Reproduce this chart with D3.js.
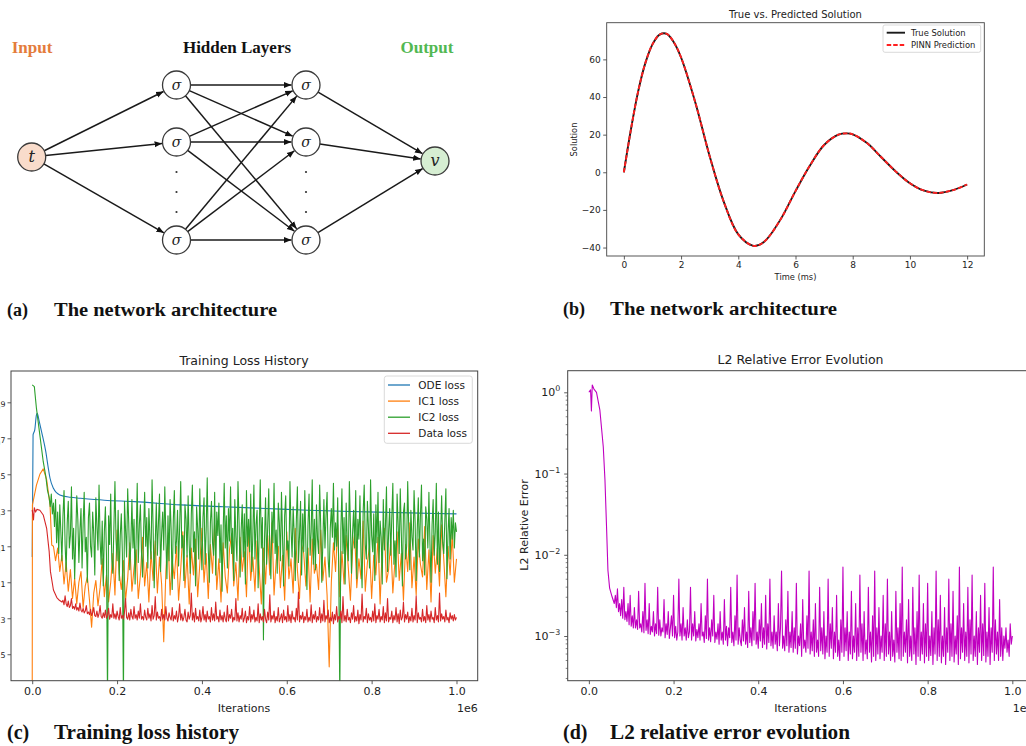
<!DOCTYPE html>
<html>
<head>
<meta charset="utf-8">
<script src="https://cdn.jsdelivr.net/npm/d3@7"></script>
<style>
body { margin: 0; background: #fff; }
</style>
</head>
<body>
<svg id="fig" width="1026" height="746"></svg>
<script>
"use strict";

// (a) network architecture
var layerTitles = ["Input", "Hidden Layers", "Output"];
var netLayers = [["t"], ["σ", "σ", "σ"], ["σ", "σ", "σ"], ["v"]];

// (b) true vs predicted solution
var solTime = [0, 0.25, 0.5, 0.75, 1, 1.25, 1.5, 1.75, 2, 2.5, 3, 3.5, 4, 4.5, 4.75, 5, 5.5, 6, 6.5, 7, 7.5, 7.8, 8, 8.5, 9, 9.5, 10, 10.5, 11, 11.5, 12];
var solTrue = [0, 23, 43, 58, 68, 73.2, 73.6, 69, 61, 37, 8.5, -16, -33, -39, -38.5, -35.5, -24.5, -10, 3.5, 14.5, 20, 20.7, 20.2, 15.5, 8, 0.5, -5.8, -9.8, -11, -9.5, -6.5];
var solPred = [0, 23, 43, 58, 68, 73.2, 73.6, 69, 61, 37, 8.5, -16, -33, -39, -38.5, -35.5, -24.5, -10, 3.5, 14.5, 20, 20.7, 20.2, 15.5, 8, 0.5, -5.8, -9.8, -11, -9.5, -6.5];
var solXTicks = [0, 2, 4, 6, 8, 10, 12];
var solYTicks = [-40, -20, 0, 20, 40, 60];
var solNames = ["True Solution", "PINN Prediction"];

// (c) training loss history, iterations in 1e6, losses as log10
var iterTicks = [0, 0.2, 0.4, 0.6, 0.8, 1.0];
var lossExpTicks = [9, 7, 5, 3, 1, -1, -3, -5];
var lossNames = ["ODE loss", "IC1 loss", "IC2 loss", "Data loss"];

var odeLoss = [[0, 0.4], [0.002, 7.19], [0.006, 7.47], [0.01, 8.3], [0.012, 8.39], [0.016, 8.0],
  [0.022, 7.37], [0.032, 6.26], [0.038, 5.33], [0.042, 4.78], [0.05, 4.22], [0.065, 3.85],
  [0.09, 3.72], [0.113, 3.67], [0.17, 3.56], [0.24, 3.48], [0.35, 3.3], [0.45, 3.2],
  [0.55, 3.1], [0.65, 3.0], [0.75, 2.93], [0.85, 2.88], [0.95, 2.82], [1.0, 2.8]];

var ic1Early = [[0, -7.5], [0.0005, 3.3], [0.01, 4.4], [0.018, 5.0], [0.026, 5.3], [0.034, 4.7], [0.042, 3.3], [0.046, 1.07]];
var ic1Start = 0.05, ic1Step = 0.005;
var ic1Noise = [1.0, 0.2, 0.9, -0.4, 0.5, -1.1, 0.1, -1.5, -0.3, -1.9,
  -0.8, -2.2, -1.0, -0.4, -2.4, -1.2, -0.7, -2.0, -3.5, -1.6,
  -0.9, -2.3, -1.3, 0.3, -1.8, -0.6, -2.1, -1.0, 0.6, -1.7,
  1.9, -0.5, -1.4, 0.2, -2.0, -0.8, 1.2, -1.5, -0.2, 0.8,
  -1.9, -0.6, 1.5, -1.2, 0.1, -2.1, 0.7, -0.9, 1.3, -1.6,
  0.4, -1.1, -4.3, -0.4, 1.6, -1.7, 0.2, -0.8, 1.0, -2.0,
  -0.3, 1.8, -1.3, 0.5, -2.2, 0.9, -0.6, 1.4, -1.8, 0.0,
  2.0, -1.0, 0.6, -1.9, 1.1, -0.5, 2.2, -1.4, 0.3, -2.1,
  1.2, -0.7, -1.6, 0.8, 1.7, -1.2, 0.1, -2.0, 1.5, -0.4,
  0.7, -1.8, 2.1, -0.9, 0.4, -1.5, 1.3, -0.2, -2.2, 0.9,
  -1.1, 1.6, -0.6, 2.3, -1.7, 0.2, 1.0, -1.3, 0.5, -2.0,
  1.8, -0.8, 0.3, -1.6, 2.0, -0.3, -1.9, 1.1, 0.6, -1.2,
  0.9, -2.1, 1.4, -0.5, 0.0, -1.4, 1.9, -0.9, 0.4, -1.7,
  -5.7, -1.0, 1.2, -0.4, 2.2, -1.8, 0.7, -1.1, 1.6, -0.2,
  -2.0, 0.8, 1.7, -1.3, 0.3, -0.8, 2.4, -1.5, 0.1, 1.0,
  -1.9, 0.5, -0.6, 1.5, -2.2, 0.9, 2.0, -1.0, -0.3, 1.3,
  -1.6, 0.2, 1.8, -0.9, 0.6, -2.0, 1.1, -0.4, 2.3, -1.3,
  0.4, -1.7, 1.4, 0.0, -0.7, 2.1, -1.4, 0.8, -2.1, 1.6,
  -0.5, 0.9, -1.2, 2.2, 0.3, -1.8, 1.0, -0.6, 1.7, -1.0,
  0.3];

var ic2Early = [[0, 9.97], [0.005, 9.87], [0.01, 8.66], [0.018, 7.18], [0.026, 5.7], [0.032, 4.9], [0.036, 4.1]];
var ic2Start = 0.04, ic2Step = 0.0025;
var ic2Noise = [3.7, 3.2, 3.9, 2.8, 3.4, 2.1, 3.6, 1.2, 2.9, 0.6,
  3.3, 1.8, 0.2, 2.7, 4.1, 1.1, -0.4, 2.3, 3.5, 0.9,
  1.6, 4.3, 0.3, 2.0, -0.8, 1.4, 3.8, 2.5, 0.1, 1.9,
  3.1, -0.2, 2.2, 4.0, 0.7, 1.5, -1.0, 2.6, 3.4, 1.0,
  0.4, 2.9, 1.7, -0.6, 3.7, 2.1, 0.8, 4.4, 1.3, 0.0,
  2.4, -1.2, 1.8, 3.2, 0.5, -7.5, 2.7, 1.1, 3.9, 0.3,
  -0.5, 2.0, 4.6, 1.4, 0.2, 3.0, -0.9, 1.6, 2.8, 0.6,
  -7.5, 3.5, 1.9, 0.4, 4.2, 2.3, -0.3, 1.2, 3.6, 0.9,
  2.5, -1.1, 1.5, 4.5, 0.1, 2.2, 3.3, 0.7, -0.7, 1.8,
  4.0, 1.0, 2.6, -0.2, 3.1, 1.4, 0.3, 4.7, 2.0, -1.3,
  1.2, 3.4, 0.5, 2.3, 3.9, -0.4, 1.7, 2.9, 0.8, 4.3,
  1.5, -0.8, 2.7, 0.2, 3.6, 1.9, -1.4, 2.4, 4.1, 0.6,
  1.3, 3.0, -0.1, 2.1, 4.6, 0.9, 1.6, -0.9, 3.3, 2.5,
  0.4, 3.8, 1.1, -0.5, 2.8, 4.4, 0.7, 1.8, -1.2, 3.2,
  2.0, 0.3, 4.2, 1.4, -0.3, 2.6, 3.7, 0.0, 1.9, 4.8,
  0.8, -1.0, 2.3, 3.5, 1.2, 0.5, 4.0, -0.6, 2.9, 1.6,
  3.4, 0.1, 2.2, -1.5, 1.7, 4.5, 0.9, 2.7, -0.2, 3.1,
  1.3, 4.3, 0.6, 2.0, -0.9, 3.6, 1.5, 0.2, 4.6, 2.4,
  -0.7, 1.9, 3.3, 0.4, 2.8, -1.1, 4.1, 1.0, 2.5, 0.7,
  3.9, -0.4, 1.6, 4.4, 0.3, 2.2, 3.0, -1.3, 1.8, 4.7,
  0.9, 2.6, -4.2, 1.4, 3.7, 0.0, 2.1, 4.2, 0.5, -0.8,
  2.9, 1.2, 4.5, 0.6, 1.9, -0.5, 3.4, 2.3, 0.2, 4.0,
  1.5, -1.2, 2.7, 3.8, 0.8, 1.3, -0.1, 4.6, 2.0, 0.4,
  3.2, 1.7, -0.9, 2.4, 4.3, 0.1, 1.6, 3.5, -0.6, 2.8,
  0.7, 4.1, 1.1, -1.4, 2.2, 3.9, 0.5, 1.8, 4.7, 0.0,
  2.5, -0.3, 3.3, 1.4, 0.6, 4.4, 2.1, -1.0, 1.2, 3.6,
  0.9, 2.7, 4.0, 0.3, -0.7, 2.0, 3.1, 1.5, 4.5, 0.8,
  2.3, 1.0, 3.7, -0.4, -7.5, 1.9, 4.2, 0.6, 2.6, -1.1,
  3.4, 1.3, 0.2, 4.6, 2.2, -0.5, 1.7, 3.0, 0.9, 4.1,
  -0.8, 2.5, 1.4, 3.8, 0.4, -1.3, 2.9, 4.4, 1.1, 0.3,
  3.5, 2.0, -0.2, 4.7, 1.6, 0.7, 2.8, -0.9, 3.3, 1.2,
  4.0, 0.1, 2.4, 1.5, -1.1, 3.6, 0.8, 2.1, 4.3, -0.4,
  1.8, 3.1, 0.5, 2.6, 4.5, 0.0, 1.3, -0.7, 3.9, 2.2,
  0.6, 4.2, 1.7, -1.2, 2.9, 3.4, 0.3, 1.0, 4.6, 2.0,
  -0.3, 3.0, 1.5, 0.8, 4.1, 2.3, -0.9, 1.9, 3.7, 0.4,
  2.7, 4.4, 0.2, 1.4, -0.6, 3.2, 2.5, 0.9, 4.0, 1.1,
  -1.0, 2.2, 3.6, 0.5, 1.8, 4.5, 0.0, 2.9, -0.4, 1.6,
  3.8, 1.2, 0.6, 2.4, 4.2, -0.8, 1.7, 3.1, 0.3, 2.6,
  1.4, 3.0, 0.9, 2.3, 1.8];

var dataEarly = [[0, 3.02], [0.003, 2.46], [0.005, 3.14], [0.008, 2.9], [0.011, 3.05], [0.018, 3.0],
  [0.026, 2.74], [0.034, 2.0], [0.04, 0.7], [0.043, -0.41], [0.05, -1.43], [0.058, -1.85], [0.064, -2.0]];
var dataStart = 0.07, dataStep = 0.0025;
var dataNoise = [-2.1, -2.0, -2.25, -1.75, -2.2, -2.35, -2.05, -2.4, -2.3, -1.9,
  -2.45, -2.35, -2.5, -2.2, -2.55, -2.4, -2.6, -2.15, -2.55, -2.65,
  -2.45, -2.7, -2.6, -2.3, -2.75, -2.65, -2.8, -2.5, -2.85, -2.7,
  -2.4, -2.85, -2.9, -2.6, -2.95, -2.75, -2.3, -2.9, -3.0, -2.7,
  -2.95, -2.55, -3.0, -2.85, -2.45, -3.05, -2.8, -2.95, -2.2, -3.0,
  -2.75, -3.05, -2.6, -2.9, -3.1, -2.4, -3.0, -2.85, -3.05, -2.65,
  -1.9, -2.95, -3.05, -2.7, -3.1, -2.5, -2.9, -3.05, -2.35, -3.0,
  -2.8, -3.1, -2.6, -3.0, -2.2, -3.05, -2.9, -3.1, -2.55, -2.95,
  -3.1, -2.45, -3.0, -2.75, -3.15, -2.3, -3.05, -2.85, -1.8, -3.1,
  -2.65, -3.0, -2.9, -3.15, -2.5, -3.05, -2.8, -3.1, -2.35, -3.0,
  -3.15, -2.7, -2.95, -3.1, -2.4, -3.15, -2.85, -3.05, -2.6, -3.2,
  -2.9, -2.2, -3.1, -2.75, -3.15, -2.95, -2.5, -3.1, -3.2, -2.65,
  -3.05, -2.85, -1.6, -3.1, -2.7, -3.2, -2.45, -3.05, -2.9, -3.15,
  -2.55, -3.2, -2.95, -2.35, -3.1, -2.8, -3.2, -2.6, -3.05, -2.9,
  -3.2, -2.4, -3.1, -2.75, -3.15, -2.1, -3.05, -2.9, -3.2, -2.55,
  -3.1, -2.85, -3.2, -2.65, -3.05, -3.2, -2.3, -3.15, -2.8, -3.0,
  -2.5, -3.2, -2.95, -3.1, -1.9, -3.15, -2.7, -3.2, -2.85, -3.05,
  -2.45, -3.2, -3.0, -2.6, -3.25, -2.9, -3.1, -2.35, -3.2, -2.8,
  -3.05, -2.55, -3.2, -2.95, -3.15, -2.2, -3.25, -2.75, -3.1, -2.9,
  -3.2, -2.5, -3.05, -3.25, -2.65, -3.1, -1.7, -3.2, -2.85, -3.05,
  -2.6, -3.25, -2.9, -3.15, -2.4, -3.2, -3.0, -2.75, -3.25, -2.55,
  -3.1, -2.9, -3.2, -2.3, -3.15, -2.8, -3.25, -2.6, -3.05, -2.95,
  -3.2, -2.45, -3.1, -1.55, -3.2, -2.85, -3.05, -2.65, -3.25, -2.9,
  -3.1, -2.5, -3.2, -2.95, -3.15, -2.25, -3.25, -2.8, -3.05, -2.6,
  -3.2, -2.9, -3.1, -2.4, -3.25, -2.75, -3.15, -2.0, -3.2, -2.85,
  -3.05, -2.55, -3.25, -2.95, -3.15, -2.65, -3.3, -2.8, -3.1, -2.35,
  -3.2, -2.9, -3.05, -2.6, -3.25, -1.8, -3.15, -2.85, -3.2, -2.5,
  -3.1, -2.95, -3.25, -2.7, -3.05, -2.3, -3.2, -2.9, -3.15, -2.55,
  -3.3, -2.8, -3.1, -1.65, -3.2, -2.9, -3.05, -2.45, -3.25, -2.75,
  -3.1, -2.95, -3.2, -2.6, -3.15, -2.2, -3.25, -2.85, -3.05, -2.5,
  -3.2, -2.9, -3.1, -2.35, -3.25, -2.7, -3.15, -1.9, -3.2, -2.95,
  -3.05, -2.6, -3.25, -2.85, -3.1, -2.4, -3.2, -2.75, -3.3, -2.55,
  -3.1, -2.95, -2.1, -3.2, -2.8, -3.05, -2.65, -3.25, -2.9, -3.15,
  -2.45, -3.2, -2.85, -3.1, -1.75, -3.25, -2.7, -3.05, -2.95, -3.2,
  -2.5, -3.15, -2.9, -3.25, -2.3, -3.1, -2.8, -3.2, -2.6, -3.05,
  -2.95, -3.25, -2.4, -3.1, -2.85, -3.2, -1.6, -3.15, -2.75, -3.05,
  -2.9, -3.2, -2.55, -3.1, -2.95, -3.25, -2.7, -3.05, -2.85, -3.15,
  -2.8, -3.1, -2.95];

// (d) L2 relative error, as log10
var errExpTicks = [0, -1, -2, -3];
var errEarly = [[0, 0.0], [0.004, 0.03], [0.006, -0.23], [0.008, 0.09], [0.012, 0.04], [0.018, 0.0],
  [0.026, -0.22], [0.034, -0.67], [0.038, -1.08], [0.042, -1.7], [0.045, -2.19], [0.049, -2.41], [0.055, -2.52]];
var errStart = 0.06, errStep = 0.0025;
var errNoise = [-2.6, -2.5, -2.65, -2.42, -2.7, -2.6, -2.75, -2.55, -2.78, -2.4,
  -2.8, -2.7, -2.82, -2.6, -2.86, -2.5, -2.88, -2.75, -2.9, -2.65,
  -2.9, -2.8, -2.92, -2.45, -2.9, -2.85, -2.95, -2.7, -2.96, -2.35,
  -2.93, -2.8, -2.97, -2.6, -2.98, -2.88, -2.95, -2.7, -3.0, -2.85,
  -2.97, -2.4, -2.99, -2.8, -3.0, -2.9, -2.95, -2.55, -3.02, -2.85,
  -2.98, -2.7, -3.03, -2.9, -2.75, -3.0, -2.5, -3.02, -2.88, -3.05,
  -2.95, -2.3, -3.0, -2.85, -3.05, -2.65, -3.0, -2.9, -3.05, -2.8,
  -3.02, -2.95, -2.4, -3.05, -2.85, -3.0, -2.7, -3.06, -2.92, -3.02,
  -2.85, -3.05, -2.6, -3.0, -2.95, -3.08, -2.75, -3.03, -2.3, -3.05,
  -2.9, -3.07, -2.8, -3.0, -2.5, -3.08, -2.95, -3.04, -2.85, -3.1,
  -2.7, -3.05, -2.95, -3.1, -2.55, -3.05, -2.88, -3.12, -2.9, -3.02,
  -2.4, -3.08, -2.95, -3.12, -2.75, -3.05, -2.25, -3.1, -2.9, -3.05,
  -3.12, -2.8, -3.06, -2.65, -3.1, -2.95, -3.14, -2.45, -3.08, -2.9,
  -3.12, -2.7, -3.05, -2.35, -3.1, -2.95, -3.15, -2.8, -3.06, -2.6,
  -3.14, -2.9, -3.1, -2.5, -3.16, -2.85, -3.08, -2.3, -3.12, -2.95,
  -3.15, -2.75, -3.1, -2.95, -3.18, -2.6, -3.12, -2.9, -2.2, -3.15,
  -3.0, -3.18, -2.8, -3.12, -2.45, -3.2, -2.95, -3.14, -2.7, -3.2,
  -2.9, -3.15, -2.35, -3.22, -3.0, -3.12, -2.85, -3.25, -2.55, -3.15,
  -3.05, -3.2, -2.75, -3.15, -2.2, -3.22, -2.95, -3.18, -2.8, -3.25,
  -2.6, -3.2, -3.05, -3.25, -2.4, -3.18, -2.9, -3.22, -2.7, -3.28,
  -3.0, -3.2, -2.3, -3.25, -2.85, -3.15, -2.65, -3.28, -2.95, -3.2,
  -2.5, -3.25, -3.05, -3.3, -2.8, -3.2, -2.15, -3.25, -2.9, -3.18,
  -2.7, -3.3, -2.95, -3.22, -2.45, -3.28, -3.0, -3.2, -2.6, -3.3,
  -2.9, -3.25, -2.25, -3.2, -2.85, -3.3, -2.7, -3.22, -3.05, -3.28,
  -2.4, -3.2, -2.95, -3.32, -2.75, -3.25, -2.2, -3.3, -2.9, -3.22,
  -2.65, -3.28, -3.0, -3.2, -2.5, -3.3, -2.85, -3.25, -2.3, -3.22,
  -2.95, -3.3, -2.7, -3.25, -3.05, -3.32, -2.45, -3.2, -2.9, -3.28,
  -2.6, -3.3, -2.15, -3.25, -2.95, -3.2, -2.8, -3.33, -2.55, -3.25,
  -3.0, -3.3, -2.4, -3.22, -2.9, -3.35, -2.7, -3.25, -2.25, -3.3,
  -2.95, -3.22, -2.6, -3.33, -2.85, -3.25, -2.35, -3.3, -3.0, -3.24,
  -2.7, -3.35, -2.9, -3.22, -2.2, -3.3, -2.8, -3.25, -2.5, -3.33,
  -3.0, -3.25, -2.65, -3.35, -2.9, -3.2, -2.3, -3.3, -2.85, -3.25,
  -2.45, -3.32, -3.0, -3.22, -2.75, -3.35, -2.15, -3.28, -2.9, -3.2,
  -2.6, -3.3, -2.95, -3.25, -2.4, -3.33, -2.8, -3.22, -2.25, -3.3,
  -3.0, -3.25, -2.7, -3.35, -2.9, -3.2, -2.5, -3.3, -2.85, -3.24,
  -2.35, -3.32, -2.95, -3.25, -2.65, -3.35, -2.9, -3.2, -2.15, -3.3,
  -2.8, -3.22, -2.95, -3.3, -2.55, -3.25, -2.9, -3.3, -3.0, -3.15,
  -2.9, -3.2, -3.05, -3.25, -2.85, -3.1, -3.0];

var tab10 = ["#1f77b4", "#ff7f0e", "#2ca02c", "#d62728"];
var SANS = "DejaVu Sans";
var SERIF = "Liberation Serif";

var svg = d3.select("#fig");
svg.append("rect").attr("width", 1026).attr("height", 746).attr("fill", "#fff");
var defs = svg.append("defs");

defs.append("marker")
  .attr("id", "arrow")
  .attr("viewBox", "0 0 10 10")
  .attr("refX", 10).attr("refY", 5)
  .attr("markerWidth", 7.5).attr("markerHeight", 7.5)
  .attr("markerUnits", "userSpaceOnUse")
  .attr("orient", "auto")
  .append("path")
  .attr("d", "M0,1 L10,5 L0,9 z")
  .attr("fill", "#111");

defs.append("clipPath").attr("id", "clipC")
  .append("rect").attr("x", 11).attr("y", 371).attr("width", 466.7).attr("height", 309.7);
defs.append("clipPath").attr("id", "clipD")
  .append("rect").attr("x", 567.7).attr("y", 370.7).attr("width", 470).attr("height", 310);

function styleAxis(g, size) {
  g.attr("font-family", SANS).attr("font-size", size);
  g.select(".domain").remove();
  g.selectAll(".tick line").attr("stroke", "#333").attr("stroke-width", 0.8);
  g.selectAll(".tick text").attr("fill", "#222");
}

function powLabel(g, baseDy, supDy) {
  g.selectAll(".tick text").each(function(d) {
    var e = Math.round(Math.log10(d));
    var t = d3.select(this).text(null).attr("dy", baseDy);
    t.append("tspan").text("10");
    t.append("tspan").attr("dy", supDy).attr("font-size", "0.72em").text(e < 0 ? "\u2212" + (-e) : e);
  });
}

function series(early, start, step, noise) {
  var pts = early.slice();
  noise.forEach(function(v, i) {
    pts.push([start + i * step, v]);
  });
  return pts;
}

// ---------- (a) network ----------
var netX = [31.7, 176.5, 306, 435];
var hiddenY = [85, 142, 240];
var singleY = [157, 0, 0, 161];
var nodeR = 14;

var nodes = netLayers.map(function(layer, li) {
  return layer.map(function(lab, ni) {
    return {lab: lab, li: li, x: netX[li], y: layer.length === 1 ? singleY[li] : hiddenY[ni]};
  });
});

var edges = [];
for (var li = 0; li < nodes.length - 1; li++) {
  nodes[li].forEach(function(a) {
    nodes[li + 1].forEach(function(b) {
      edges.push([a, b]);
    });
  });
}

function unit(d) {
  var dx = d[1].x - d[0].x, dy = d[1].y - d[0].y;
  var l = Math.sqrt(dx * dx + dy * dy);
  return [dx / l, dy / l];
}

var gA = svg.append("g");
gA.selectAll("line.edge")
  .data(edges).enter()
  .append("line")
  .attr("x1", function(d) { return d[0].x + unit(d)[0] * nodeR; })
  .attr("y1", function(d) { return d[0].y + unit(d)[1] * nodeR; })
  .attr("x2", function(d) { return d[1].x - unit(d)[0] * (nodeR + 0.5); })
  .attr("y2", function(d) { return d[1].y - unit(d)[1] * (nodeR + 0.5); })
  .attr("stroke", "#1a1a1a")
  .attr("stroke-width", 1.5)
  .attr("marker-end", "url(#arrow)");

var nodeFill = ["#f9dccb", "#fff", "#fff", "#d6eed2"];
var allNodes = [].concat.apply([], nodes);
gA.selectAll("circle.node")
  .data(allNodes).enter()
  .append("circle")
  .attr("cx", function(d) { return d.x; })
  .attr("cy", function(d) { return d.y; })
  .attr("r", nodeR)
  .attr("fill", function(d) { return nodeFill[d.li]; })
  .attr("stroke", "#3a3a3a")
  .attr("stroke-width", 1.3);

gA.selectAll("text.node")
  .data(allNodes).enter()
  .append("text")
  .attr("x", function(d) { return d.x; })
  .attr("y", function(d) { return d.y + 5; })
  .attr("text-anchor", "middle")
  .attr("font-family", "DejaVu Serif")
  .attr("font-style", "italic")
  .attr("font-size", function(d) { return d.lab === "σ" ? 14 : 16; })
  .attr("fill", "#222")
  .text(function(d) { return d.lab; });

[1, 2].forEach(function(li) {
  gA.selectAll(null)
    .data([172, 192, 212]).enter()
    .append("circle")
    .attr("cx", netX[li]).attr("cy", function(d) { return d; })
    .attr("r", 1.1).attr("fill", "#333");
});

var titleX = [32, 237, 427];
var titleColor = ["#e47c3c", "#111", "#52b852"];
gA.selectAll("text.ltitle")
  .data(layerTitles).enter()
  .append("text")
  .attr("x", function(d, i) { return titleX[i]; })
  .attr("y", 53)
  .attr("text-anchor", "middle")
  .attr("font-family", SERIF)
  .attr("font-weight", "bold")
  .attr("font-size", 17)
  .attr("fill", function(d, i) { return titleColor[i]; })
  .text(function(d) { return d; });

// ---------- (b) solution ----------
var bx = d3.scaleLinear().domain([-0.6, 12.6]).range([606.7, 984.3]);
var by = d3.scaleLinear().domain([-44.5, 79.5]).range([256, 22.7]);
var gB = svg.append("g");

gB.append("g")
  .attr("transform", "translate(0,256)")
  .call(d3.axisBottom(bx).tickValues(solXTicks).tickSize(3.5).tickPadding(2.5))
  .call(styleAxis, 9);
gB.append("g")
  .attr("transform", "translate(606.7,0)")
  .call(d3.axisLeft(by).tickValues(solYTicks).tickSize(3.5).tickPadding(2.5))
  .call(styleAxis, 9);

var solLine = d3.line()
  .x(function(d) { return bx(d[0]); })
  .y(function(d) { return by(d[1]); })
  .curve(d3.curveCatmullRom);

gB.append("path")
  .datum(d3.zip(solTime, solTrue))
  .attr("d", solLine)
  .attr("fill", "none")
  .attr("stroke", "#1a1a1a")
  .attr("stroke-width", 1.9);
gB.append("path")
  .datum(d3.zip(solTime, solPred))
  .attr("d", solLine)
  .attr("fill", "none")
  .attr("stroke", "#ff1f1f")
  .attr("stroke-width", 1.9)
  .attr("stroke-dasharray", "4.5,2");

gB.append("rect")
  .attr("x", 606.7).attr("y", 22.7).attr("width", 377.6).attr("height", 233.3)
  .attr("fill", "none").attr("stroke", "#444").attr("stroke-width", 0.9);

gB.append("text")
  .attr("x", 795.5).attr("y", 17.5)
  .attr("text-anchor", "middle")
  .attr("font-family", SANS).attr("font-size", 10).attr("fill", "#222")
  .text("True vs. Predicted Solution");
gB.append("text")
  .attr("x", 795.5).attr("y", 280)
  .attr("text-anchor", "middle")
  .attr("font-family", SANS).attr("font-size", 8.3).attr("fill", "#222")
  .text("Time (ms)");
gB.append("text")
  .attr("transform", "translate(577,139.5) rotate(-90)")
  .attr("text-anchor", "middle")
  .attr("font-family", SANS).attr("font-size", 8.3).attr("fill", "#222")
  .text("Solution");

var legB = gB.append("g");
legB.append("rect")
  .attr("x", 883).attr("y", 25).attr("width", 97.7).attr("height", 27.3).attr("rx", 2)
  .attr("fill", "#fff").attr("stroke", "#d0d0d0").attr("stroke-width", 0.8);
legB.selectAll("line")
  .data(solNames).enter()
  .append("line")
  .attr("x1", 886.7).attr("x2", 905)
  .attr("y1", function(d, i) { return 32.7 + i * 12.3; })
  .attr("y2", function(d, i) { return 32.7 + i * 12.3; })
  .attr("stroke", function(d, i) { return i ? "#ff1f1f" : "#1a1a1a"; })
  .attr("stroke-width", 1.9)
  .attr("stroke-dasharray", function(d, i) { return i ? "4.5,2" : null; });
legB.selectAll("text")
  .data(solNames).enter()
  .append("text")
  .attr("x", 911)
  .attr("y", function(d, i) { return 35.6 + i * 12.3; })
  .attr("font-family", SANS).attr("font-size", 8.4).attr("fill", "#222")
  .text(function(d) { return d; });

// ---------- (c) loss history ----------
var cx = d3.scaleLinear().domain([-0.05, 1.05]).range([11, 477.7]);
var cy = d3.scaleLog().domain([Math.pow(10, -6.47), Math.pow(10, 10.74)]).range([680.7, 371]);
var gC = svg.append("g");

gC.append("g")
  .attr("transform", "translate(0,680.7)")
  .call(d3.axisBottom(cx).tickValues(iterTicks).tickFormat(d3.format(".1f")).tickSize(3.5).tickPadding(3.5))
  .call(styleAxis, 11);
var cyAxis = gC.append("g")
  .attr("transform", "translate(11,0)")
  .call(d3.axisLeft(cy).tickValues(lossExpTicks.map(function(e) { return Math.pow(10, e); })).tickSize(3.5).tickPadding(2))
  .call(styleAxis, 11);
cyAxis.call(powLabel, "0.75em", -4.5);

var lossLine = d3.line()
  .x(function(d) { return cx(d[0]); })
  .y(function(d) { return cy(Math.pow(10, d[1])); });

var lossSeries = [
  odeLoss,
  series(ic1Early, ic1Start, ic1Step, ic1Noise),
  series(ic2Early, ic2Start, ic2Step, ic2Noise),
  series(dataEarly, dataStart, dataStep, dataNoise)
];

gC.append("g")
  .attr("clip-path", "url(#clipC)")
  .selectAll("path")
  .data(lossSeries).enter()
  .append("path")
  .attr("d", function(d, i) { return i === 0 ? lossLine.curve(d3.curveMonotoneX)(d) : lossLine.curve(d3.curveLinear)(d); })
  .attr("fill", "none")
  .attr("stroke", function(d, i) { return tab10[i]; })
  .attr("stroke-width", 1.1)
  .attr("stroke-linejoin", "round");

gC.append("rect")
  .attr("x", 11).attr("y", 371).attr("width", 466.7).attr("height", 309.7)
  .attr("fill", "none").attr("stroke", "#444").attr("stroke-width", 1);

gC.append("text")
  .attr("x", 244).attr("y", 364.5)
  .attr("text-anchor", "middle")
  .attr("font-family", SANS).attr("font-size", 12.5).attr("fill", "#222")
  .text("Training Loss History");
gC.append("text")
  .attr("x", 244).attr("y", 712)
  .attr("text-anchor", "middle")
  .attr("font-family", SANS).attr("font-size", 11).attr("fill", "#222")
  .text("Iterations");
gC.append("text")
  .attr("x", 477.7).attr("y", 712)
  .attr("text-anchor", "end")
  .attr("font-family", SANS).attr("font-size", 11).attr("fill", "#222")
  .text("1e6");

var legC = gC.append("g");
legC.append("rect")
  .attr("x", 384.3).attr("y", 376).attr("width", 88).attr("height", 67.3).attr("rx", 2.5)
  .attr("fill", "#fff").attr("stroke", "#d0d0d0").attr("stroke-width", 0.8);
legC.selectAll("line")
  .data(lossNames).enter()
  .append("line")
  .attr("x1", 388).attr("x2", 410)
  .attr("y1", function(d, i) { return 385 + i * 16.1; })
  .attr("y2", function(d, i) { return 385 + i * 16.1; })
  .attr("stroke", function(d, i) { return tab10[i]; })
  .attr("stroke-width", 1.3);
legC.selectAll("text")
  .data(lossNames).enter()
  .append("text")
  .attr("x", 418.3)
  .attr("y", function(d, i) { return 388.8 + i * 16.1; })
  .attr("font-family", SANS).attr("font-size", 10.5).attr("fill", "#222")
  .text(function(d) { return d; });

// ---------- (d) L2 error ----------
var dxs = d3.scaleLinear().domain([-0.05, 1.05]).range([567.7, 1033.5]);
var dys = d3.scaleLog().domain([Math.pow(10, -3.55), Math.pow(10, 0.266)]).range([680.7, 370.7]);
var gD = svg.append("g");

gD.append("g")
  .attr("transform", "translate(0,680.7)")
  .call(d3.axisBottom(dxs).tickValues(iterTicks).tickFormat(d3.format(".1f")).tickSize(3.5).tickPadding(3.5))
  .call(styleAxis, 11);

var minorTicks = [];
[-4, -3, -2, -1, 0].forEach(function(e) {
  d3.range(2, 10).forEach(function(k) {
    var v = k * Math.pow(10, e);
    if (v > dys.domain()[0] && v < dys.domain()[1]) minorTicks.push(v);
  });
});
gD.selectAll("line.minor")
  .data(minorTicks).enter()
  .append("line")
  .attr("x1", 565.7).attr("x2", 567.7)
  .attr("y1", function(d) { return dys(d); })
  .attr("y2", function(d) { return dys(d); })
  .attr("stroke", "#333").attr("stroke-width", 0.6);

var dyAxis = gD.append("g")
  .attr("transform", "translate(567.7,0)")
  .call(d3.axisLeft(dys).tickValues(errExpTicks.map(function(e) { return Math.pow(10, e); })).tickSize(3.5).tickPadding(4))
  .call(styleAxis, 11);
dyAxis.call(powLabel, "0.32em", -5);

var errLine = d3.line()
  .x(function(d) { return dxs(d[0]); })
  .y(function(d) { return dys(Math.pow(10, d[1])); });

gD.append("path")
  .datum(series(errEarly, errStart, errStep, errNoise))
  .attr("clip-path", "url(#clipD)")
  .attr("d", errLine)
  .attr("fill", "none")
  .attr("stroke", "#c000c0")
  .attr("stroke-width", 1.1)
  .attr("stroke-linejoin", "round");

gD.append("rect")
  .attr("x", 567.7).attr("y", 370.7).attr("width", 465.8).attr("height", 310)
  .attr("fill", "none").attr("stroke", "#444").attr("stroke-width", 1);

gD.append("text")
  .attr("x", 800.5).attr("y", 364)
  .attr("text-anchor", "middle")
  .attr("font-family", SANS).attr("font-size", 12.5).attr("fill", "#222")
  .text("L2 Relative Error Evolution");
gD.append("text")
  .attr("x", 800.5).attr("y", 712)
  .attr("text-anchor", "middle")
  .attr("font-family", SANS).attr("font-size", 11).attr("fill", "#222")
  .text("Iterations");
gD.append("text")
  .attr("x", 1033.5).attr("y", 712)
  .attr("text-anchor", "end")
  .attr("font-family", SANS).attr("font-size", 11).attr("fill", "#222")
  .text("1e6");
gD.append("text")
  .attr("transform", "translate(528,525) rotate(-90)")
  .attr("text-anchor", "middle")
  .attr("font-family", SANS).attr("font-size", 11).attr("fill", "#222")
  .text("L2 Relative Error");

// ---------- captions ----------
var captions = [
  {tag: "(a)", text: "The network architecture", x: 7, y: 316, len: 223, size: 18},
  {tag: "(b)", text: "The network architecture", x: 563, y: 315, len: 227, size: 18},
  {tag: "(c)", text: "Training loss history", x: 7, y: 739, len: 185, size: 20},
  {tag: "(d)", text: "L2 relative error evolution", x: 563, y: 739, len: 240, size: 20}
];
var capG = svg.append("g")
  .attr("font-family", SERIF)
  .attr("font-weight", "bold")
  .attr("fill", "#111");
captions.forEach(function(c) {
  capG.append("text")
    .attr("x", c.x).attr("y", c.y)
    .attr("font-size", c.size)
    .text(c.tag);
  capG.append("text")
    .attr("x", c.x + 47).attr("y", c.y)
    .attr("font-size", c.size)
    .attr("textLength", c.len)
    .attr("lengthAdjust", "spacingAndGlyphs")
    .text(c.text);
});
</script>
</body>
</html>
